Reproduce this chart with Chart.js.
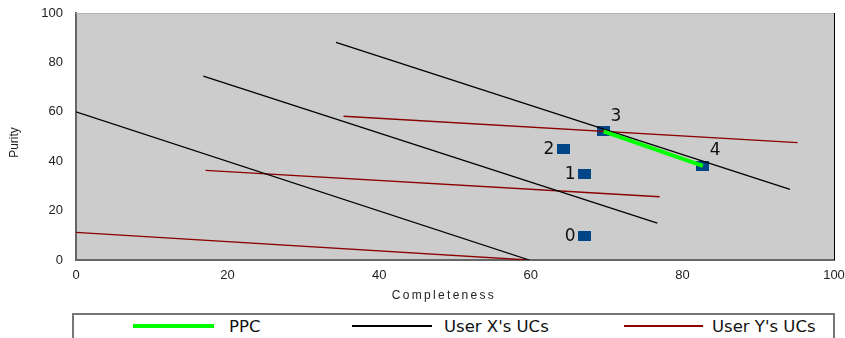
<!DOCTYPE html>
<html>
<head>
<meta charset="utf-8">
<script src="https://cdn.jsdelivr.net/npm/chart.js@4"></script>
<style>
  html, body { margin: 0; padding: 0; background: #fff; }
  #wrap { position: relative; width: 845px; height: 338px; overflow: hidden; }
  #legend {
    position: absolute; left: 72px; top: 313px; width: 763px; height: 50px;
    box-sizing: border-box; border: 2px solid #777; background: #fff;
  }
  .swatch { position: absolute; }
  .name {
    position: absolute; top: 2px; font: 16.5px "DejaVu Sans", sans-serif; color: #111;
    line-height: 20px; white-space: nowrap;
  }
</style>
</head>
<body>
<div id="wrap">
  <canvas id="chart" width="845" height="338"></canvas>
  <div id="legend"></div>
</div>
<script>
// classifier points (completeness, purity)
const pointNames = ["0", "1", "2", "3", "4"];
const pointX = [67.1, 67.1, 64.3, 69.6, 82.7];
const pointY = [9.6, 34.7, 44.8, 52.1, 38.1];

// PPC runs through these points
const ppcIndex = [3, 4];

// utility contours, [x, y] start and end
const userXStart = [[0, 60], [16.8, 74.4], [34.3, 88.1]];
const userXEnd = [[59.8, 0], [76.7, 14.9], [94.2, 28.6]];
const userYStart = [[0, 11.2], [17.1, 36.3], [35.3, 58.2]];
const userYEnd = [[59.6, 0], [77.0, 25.6], [95.2, 47.5]];

const xTicks = [0, 20, 40, 60, 80, 100];
const yTicks = [0, 20, 40, 60, 80, 100];
const xTitle = "Completeness";
const yTitle = "Purity";
const legendNames = ["PPC", "User X's UCs", "User Y's UCs"];

const BLUE = "#004586";
const GREEN = "#00ff00";
const BLACK = "#000000";
const DARKRED = "#8b0000";

// square-ish marker
const marker = document.createElement("canvas");
marker.width = 13;
marker.height = 10;
const mctx = marker.getContext("2d");
mctx.fillStyle = BLUE;
mctx.fillRect(0, 0, 13, 10);

function segment(start, end, color, width, label) {
  return {
    label,
    data: [{ x: start[0], y: start[1] }, { x: end[0], y: end[1] }],
    showLine: true,
    borderColor: color,
    borderWidth: width,
    pointRadius: 0,
    fill: false,
    order: 1
  };
}

const datasets = [];
datasets.push({
  label: "points",
  data: pointX.map((x, i) => ({ x, y: pointY[i] })),
  pointStyle: marker,
  pointRadius: 6,
  showLine: false,
  order: 10
});
datasets.push({
  label: legendNames[0],
  data: ppcIndex.map(i => ({ x: pointX[i], y: pointY[i] })),
  showLine: true,
  borderColor: GREEN,
  borderWidth: 4,
  pointRadius: 0,
  order: 0
});
userXStart.forEach((s, i) => datasets.push(segment(s, userXEnd[i], BLACK, 1.3, legendNames[1])));
userYStart.forEach((s, i) => datasets.push(segment(s, userYEnd[i], DARKRED, 1.3, legendNames[2])));

const plotFrame = {
  id: "plotFrame",
  beforeDraw(chart) {
    const { ctx, chartArea: a } = chart;
    ctx.save();
    ctx.fillStyle = "#fff";
    ctx.fillRect(0, 0, chart.width, chart.height);
    ctx.fillStyle = "#cccccc";
    ctx.fillRect(a.left, a.top, a.right - a.left, a.bottom - a.top);
    ctx.restore();
  },
  afterDraw(chart) {
    const { ctx, chartArea: a } = chart;
    ctx.save();
    ctx.lineWidth = 1;
    ctx.strokeStyle = "#b3b3b3";
    ctx.beginPath();
    ctx.moveTo(a.left, a.top + 0.5);
    ctx.lineTo(a.right, a.top + 0.5);
    ctx.stroke();
    ctx.strokeStyle = "#000";
    ctx.beginPath();
    ctx.moveTo(a.right + 0.5, a.top);
    ctx.lineTo(a.right + 0.5, a.bottom);
    ctx.stroke();

    // axis titles
    ctx.fillStyle = "#222";
    ctx.textBaseline = "middle";
    ctx.textAlign = "center";
    ctx.font = '12px "Liberation Sans", Arial, sans-serif';
    ctx.letterSpacing = "2.3px";
    ctx.fillText(xTitle, (a.left + a.right) / 2 - 11, 296);
    ctx.letterSpacing = "0px";
    ctx.translate(15, (a.top + a.bottom) / 2 + 6);
    ctx.rotate(-Math.PI / 2);
    ctx.fillText(yTitle, 0, 0);
    ctx.restore();
  }
};

const pointLabels = {
  id: "pointLabels",
  afterDatasetsDraw(chart) {
    const { ctx } = chart;
    const meta = chart.getDatasetMeta(0);
    ctx.save();
    ctx.font = '17px "DejaVu Sans", sans-serif';
    ctx.fillStyle = "#111";
    ctx.textBaseline = "middle";
    meta.data.forEach((pt, i) => {
      if (ppcIndex.includes(i)) {
        ctx.textAlign = "left";
        ctx.fillText(pointNames[i], pt.x + 7, pt.y - 15);
      } else {
        ctx.textAlign = "right";
        ctx.fillText(pointNames[i], pt.x - 9, pt.y);
      }
    });
    ctx.restore();
  }
};

const tickFont = { family: '"Liberation Sans", Arial, sans-serif', size: 13 };

new Chart(document.getElementById("chart"), {
  type: "scatter",
  data: { datasets },
  options: {
    responsive: false,
    animation: false,
    layout: { padding: { left: 0, top: 13, right: 11, bottom: 0 } },
    plugins: { legend: { display: false }, tooltip: { enabled: false } },
    scales: {
      x: {
        type: "linear",
        min: 0,
        max: 100,
        afterBuildTicks: s => { s.ticks = xTicks.map(v => ({ value: v })); },
        // fixed axis box, no extra room for the end labels
        afterFit: s => { s.height = 78; s.paddingLeft = 0; s.paddingRight = 0; },
        grid: { display: false, drawTicks: false },
        border: { color: "#666", width: 2 },
        ticks: { font: tickFont, color: "#222", padding: 8, maxRotation: 0 }
      },
      y: {
        type: "linear",
        min: 0,
        max: 100,
        afterBuildTicks: s => { s.ticks = yTicks.map(v => ({ value: v })); },
        afterFit: s => { s.width = 76; s.paddingTop = 0; s.paddingBottom = 0; },
        grid: { display: false, drawTicks: false },
        border: { color: "#666", width: 2 },
        ticks: { font: tickFont, color: "#222", padding: 13 }
      }
    }
  },
  plugins: [plotFrame, pointLabels]
});

// legend built from the first dataset of each line group
const legendEl = document.getElementById("legend");
const legendLayout = [
  { lineLeft: 59, lineWidth: 81, textLeft: 155 },
  { lineLeft: 278, lineWidth: 80, textLeft: 370 },
  { lineLeft: 550, lineWidth: 79, textLeft: 638 }
];
legendNames.forEach((name, i) => {
  const ds = datasets.find(d => d.label === name);
  const pos = legendLayout[i];
  const line = document.createElement("div");
  line.className = "swatch";
  line.style.left = pos.lineLeft + "px";
  line.style.width = pos.lineWidth + "px";
  line.style.height = Math.max(1.5, ds.borderWidth) + "px";
  line.style.top = (11 - ds.borderWidth / 2) + "px";
  line.style.background = ds.borderColor;
  legendEl.appendChild(line);
  const text = document.createElement("div");
  text.className = "name";
  text.style.left = pos.textLeft + "px";
  text.textContent = name;
  legendEl.appendChild(text);
});
</script>
</body>
</html>
